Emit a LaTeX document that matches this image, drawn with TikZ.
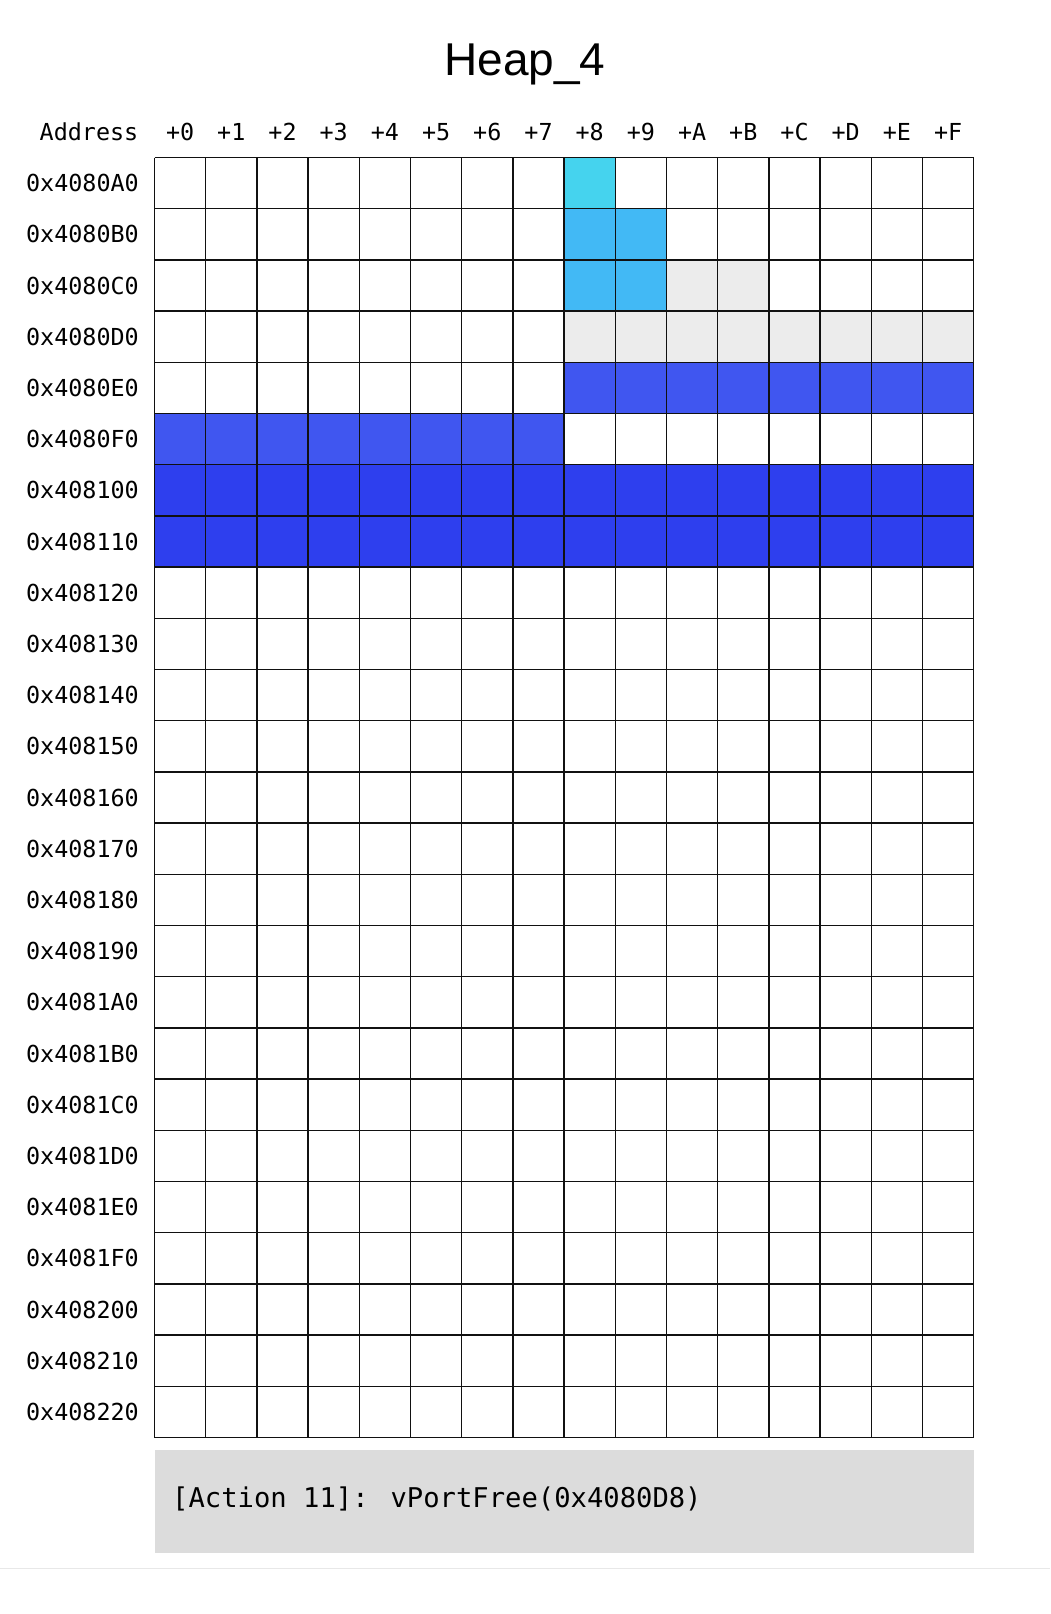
\documentclass[tikz,border=0pt]{standalone}
\usepackage{fontspec}
\setmainfont{Liberation Sans}
\newfontfamily\monof{DejaVu Sans Mono}
\definecolor{cyancell}{HTML}{45D3EE}
\definecolor{lbluecell}{HTML}{42B9F5}
\definecolor{graycell}{HTML}{ECECEC}
\definecolor{mbluecell}{HTML}{4056F0}
\definecolor{dbluecell}{HTML}{2E3FEE}
\definecolor{boxgray}{HTML}{DCDCDC}
\definecolor{gridcol}{HTML}{111111}
\definecolor{sepcol}{HTML}{E8E8E8}
\tikzset{
  gridline/.style={draw=gridcol, line width=1.3pt},
  lab/.style={font=\monof\fontsize{23.4}{27}\selectfont, inner sep=0pt},
  titlelab/.style={font=\fontsize{46}{52}\selectfont, inner sep=0pt},
  actlab/.style={font=\monof\fontsize{27.2}{32}\selectfont, inner sep=0pt, anchor=west},
}
\newcommand\cellfill[3]{\fill[#3] ({154.5+#1*51.2},{157.5+#2*51.2}) rectangle ++(51.2,51.2);}
\begin{document}
\begin{tikzpicture}[x=1pt,y=-1pt]
\useasboundingbox (0,0) rectangle (1050,1614);
\fill[white] (0,0) rectangle (1050,1614);
\node[titlelab] (title) at (525,64) {Heap\_4};
% fills
\cellfill{8}{0}{cyancell}
\cellfill{8}{1}{lbluecell}\cellfill{9}{1}{lbluecell}
\cellfill{8}{2}{lbluecell}\cellfill{9}{2}{lbluecell}
\cellfill{10}{2}{graycell}\cellfill{11}{2}{graycell}
\foreach \c in {8,...,15} {\cellfill{\c}{3}{graycell}}
\foreach \c in {8,...,15} {\cellfill{\c}{4}{mbluecell}}
\foreach \c in {0,...,7} {\cellfill{\c}{5}{mbluecell}}
\foreach \c in {0,...,15} {\cellfill{\c}{6}{dbluecell}\cellfill{\c}{7}{dbluecell}}
% grid
\foreach \i in {0,...,16} {\draw[gridline] ({154.5+\i*51.2},157.5) -- ++(0,{25*51.2});}
\foreach \j in {0,...,25} {\draw[gridline] (154.5,{157.5+\j*51.2}) -- ++({16*51.2},0);}
% header
\node[lab,anchor=east] (addr) at (138.5,131.8) {Address};
\foreach [count=\k from 0] \h in {0,1,2,3,4,5,6,7,8,9,A,B,C,D,E,F}
  {\node[lab] (h\k) at ({154.5+(\k+0.5)*51.2},131.8) {+\h};}
% row labels
\foreach [count=\r from 0] \a in {0x4080A0,0x4080B0,0x4080C0,0x4080D0,0x4080E0,0x4080F0,0x408100,0x408110,0x408120,0x408130,0x408140,0x408150,0x408160,0x408170,0x408180,0x408190,0x4081A0,0x4081B0,0x4081C0,0x4081D0,0x4081E0,0x4081F0,0x408200,0x408210,0x408220}
  {\node[lab,anchor=east] (r\r) at (139,{157.5+(\r+0.5)*51.2}) {\a};}
% action box
\fill[boxgray] (154.5,1449.5) rectangle (973.7,1552.5);
\node[actlab] (act) at (172,1499) {[Action 11]: vPortFree(0x4080D8)};
% separator
\draw[sepcol, line width=1pt] (0,1568) -- (1050,1568);
\end{tikzpicture}
\end{document}
